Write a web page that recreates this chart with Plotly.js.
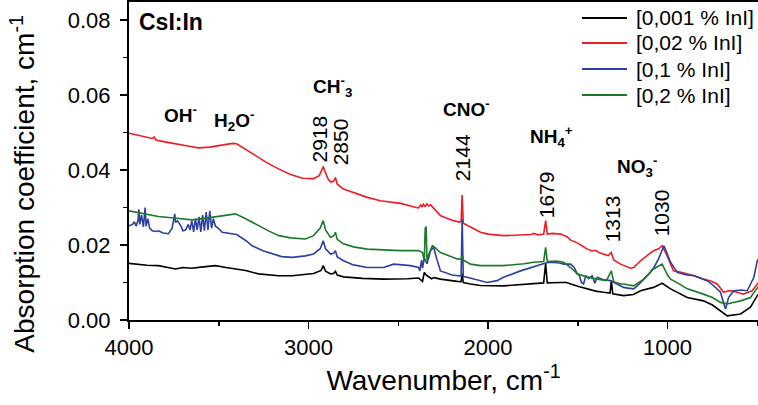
<!DOCTYPE html>
<html><head><meta charset="utf-8">
<script src="https://cdn.plot.ly/plotly-3.0.1.min.js"></script>
<style>html,body{margin:0;padding:0;background:#fff}#chart{width:758px;height:405px}</style>
</head><body><div id="chart"></div>
<script>
// Series names
const seriesNames = ["[0,001 % InI]", "[0,02 % InI]", "[0,1 % InI]", "[0,2 % InI]"];
const seriesColors = ["#000000", "#ee1c24", "#2e3f9f", "#1a7a2a"];

// [0,001 % InI]
const wnBlack = [4000,3950,3900,3836,3780,3741,3700,3650,3600,3518,3460,3407,3350,3279,3200,3167,3091,3017,2972,2930,2918,2905,2877,2860,2850,2840,2805,2700,2582,2450,2387,2365,2355,2345,2330,2315,2300,2265,2172,2150,2144,2138,2098,2042,1914,1800,1726,1690,1679,1670,1596,1563,1500,1447,1400,1357,1320,1313,1305,1245,1190,1150,1078,1030,983,890,800,750,705,667,593,538,500,490];
const abBlack = [0.0151,0.0148,0.0146,0.0145,0.0140,0.0136,0.0140,0.0138,0.0141,0.0145,0.0140,0.0136,0.0132,0.0123,0.0119,0.0118,0.0118,0.0121,0.0124,0.0132,0.0145,0.0130,0.0123,0.0124,0.0130,0.0120,0.0115,0.0111,0.0109,0.0110,0.0112,0.0103,0.0127,0.0120,0.0115,0.0110,0.0113,0.0109,0.0103,0.0102,0.0123,0.0100,0.0096,0.0092,0.0091,0.0095,0.0098,0.0099,0.0151,0.0099,0.0100,0.0100,0.0090,0.0083,0.0077,0.0074,0.0072,0.0105,0.0070,0.0065,0.0068,0.0078,0.0087,0.0098,0.0083,0.0060,0.0051,0.0040,0.0025,0.0011,0.0016,0.0034,0.0065,0.0070];

// [0,02 % InI]
const wnRed = [4000,3950,3900,3870,3860,3850,3800,3750,3700,3650,3613,3550,3500,3450,3423,3400,3350,3300,3279,3230,3167,3100,3033,2972,2940,2925,2918,2910,2890,2877,2860,2850,2840,2805,2750,2673,2600,2487,2400,2387,2375,2368,2360,2350,2340,2330,2320,2300,2264,2200,2160,2150,2144,2138,2100,2042,2000,1914,1850,1760,1746,1720,1690,1679,1670,1640,1596,1560,1540,1500,1470,1447,1420,1400,1380,1357,1330,1313,1300,1262,1206,1189,1150,1100,1078,1050,1030,1002,967,930,890,850,800,760,723,700,688,660,632,600,577,550,528,500,490];
const abRed = [0.0498,0.0492,0.0487,0.0484,0.0488,0.0480,0.0475,0.0470,0.0467,0.0462,0.0459,0.0461,0.0465,0.0469,0.0471,0.0470,0.0455,0.0441,0.0434,0.0419,0.0403,0.0388,0.0378,0.0377,0.0385,0.0400,0.0409,0.0398,0.0375,0.0368,0.0370,0.0380,0.0362,0.0349,0.0340,0.0327,0.0318,0.0311,0.0300,0.0299,0.0307,0.0301,0.0309,0.0303,0.0310,0.0304,0.0307,0.0296,0.0278,0.0266,0.0261,0.0262,0.0333,0.0258,0.0248,0.0234,0.0229,0.0225,0.0226,0.0228,0.0231,0.0227,0.0229,0.0265,0.0229,0.0231,0.0229,0.0222,0.0213,0.0205,0.0196,0.0189,0.0184,0.0186,0.0179,0.0176,0.0172,0.0180,0.0160,0.0149,0.0138,0.0140,0.0158,0.0177,0.0185,0.0190,0.0198,0.0171,0.0131,0.0128,0.0123,0.0118,0.0109,0.0104,0.0096,0.0083,0.0074,0.0078,0.0077,0.0072,0.0069,0.0074,0.0078,0.0096,0.0100];

// [0,1 % InI]
const wnBlue = [4000,3980,3970,3960,3950,3945,3940,3930,3920,3910,3905,3895,3885,3870,3850,3836,3810,3780,3760,3745,3741,3730,3710,3700,3685,3670,3660,3650,3640,3630,3620,3610,3600,3590,3580,3570,3560,3550,3540,3530,3518,3500,3481,3423,3400,3350,3314,3250,3202,3150,3091,3017,2972,2935,2918,2905,2877,2860,2850,2840,2805,2750,2673,2582,2526,2487,2432,2387,2380,2370,2365,2355,2340,2320,2303,2290,2265,2200,2172,2150,2144,2138,2116,2042,2004,1950,1914,1819,1726,1690,1679,1652,1600,1579,1540,1520,1503,1490,1480,1468,1455,1440,1420,1405,1392,1360,1317,1290,1245,1220,1188,1160,1132,1100,1076,1050,1020,1000,983,946,900,853,800,779,740,705,690,677,660,631,590,556,519,500,490];
const abBlue = [0.0251,0.0255,0.0262,0.0250,0.0266,0.0295,0.0255,0.0280,0.0248,0.0300,0.0250,0.0270,0.0245,0.0238,0.0236,0.0238,0.0232,0.0230,0.0245,0.0283,0.0260,0.0265,0.0250,0.0238,0.0240,0.0255,0.0240,0.0265,0.0235,0.0270,0.0240,0.0275,0.0235,0.0280,0.0238,0.0288,0.0240,0.0291,0.0245,0.0270,0.0250,0.0244,0.0234,0.0230,0.0228,0.0212,0.0198,0.0184,0.0176,0.0169,0.0167,0.0171,0.0176,0.0190,0.0211,0.0190,0.0176,0.0178,0.0185,0.0168,0.0158,0.0147,0.0140,0.0140,0.0149,0.0147,0.0145,0.0140,0.0131,0.0160,0.0138,0.0165,0.0150,0.0185,0.0194,0.0170,0.0131,0.0120,0.0118,0.0117,0.0269,0.0116,0.0114,0.0105,0.0100,0.0105,0.0114,0.0131,0.0145,0.0150,0.0152,0.0154,0.0152,0.0149,0.0149,0.0140,0.0123,0.0118,0.0100,0.0096,0.0118,0.0110,0.0118,0.0098,0.0114,0.0108,0.0105,0.0098,0.0087,0.0085,0.0083,0.0095,0.0109,0.0125,0.0140,0.0163,0.0198,0.0172,0.0154,0.0127,0.0121,0.0118,0.0110,0.0105,0.0090,0.0074,0.0050,0.0029,0.0060,0.0078,0.0080,0.0078,0.0114,0.0158,0.0165];

// [0,2 % InI]
const wnGreen = [4000,3900,3836,3750,3648,3550,3462,3407,3350,3277,3220,3165,3100,3017,2972,2935,2918,2905,2877,2860,2850,2840,2805,2750,2673,2487,2387,2365,2355,2350,2345,2340,2330,2310,2300,2265,2172,2150,2144,2138,2098,2042,1914,1800,1746,1690,1679,1670,1620,1579,1540,1503,1450,1392,1340,1313,1300,1262,1245,1189,1132,1078,1030,1000,983,930,890,800,750,705,667,640,593,538,500,490];
const abGreen = [0.0291,0.0282,0.0276,0.0272,0.0267,0.0273,0.0280,0.0283,0.0270,0.0251,0.0237,0.0225,0.0219,0.0216,0.0225,0.0245,0.0265,0.0240,0.0220,0.0224,0.0234,0.0215,0.0203,0.0195,0.0189,0.0185,0.0185,0.0180,0.0158,0.0245,0.0249,0.0160,0.0175,0.0198,0.0195,0.0180,0.0163,0.0162,0.0171,0.0160,0.0149,0.0145,0.0145,0.0150,0.0154,0.0156,0.0194,0.0156,0.0157,0.0154,0.0140,0.0123,0.0115,0.0109,0.0105,0.0131,0.0102,0.0096,0.0096,0.0091,0.0109,0.0136,0.0149,0.0120,0.0109,0.0095,0.0083,0.0069,0.0060,0.0047,0.0043,0.0046,0.0051,0.0060,0.0087,0.0092];

// Peak labels (rotated numbers) and group labels
const peakLabels = ["2918", "2850", "2144", "1679", "1313", "1030"];
const peakLabelWn = [2938, 2822, 2142, 1674, 1306, 1033];
const peakLabelY = [0.0483, 0.0475, 0.0433, 0.0334, 0.0270, 0.0286];
const groupLabels = ["OH<sup>-</sup>", "H<sub>2</sub>O<sup>-</sup>", "CH<sup>-</sup><sub>3</sub>", "CNO<sup>-</sup>", "NH<sub>4</sub><sup>+</sup>", "NO<sub>3</sub><sup>-</sup>"];
const groupWn = [3715, 3415, 2866, 2120, 1645, 1170];
const groupY = [0.0550, 0.0532, 0.0624, 0.0565, 0.0489, 0.0410];

const font = "Arial, 'Liberation Sans', sans-serif";
const xs = [wnBlack, wnRed, wnBlue, wnGreen];
const ys = [abBlack, abRed, abBlue, abGreen];
const traces = xs.map((x, i) => ({
  x: x, y: ys[i], type: 'scatter', mode: 'lines', name: seriesNames[i], showlegend: false,
  line: {color: seriesColors[i], width: 1.6}
}));

const annotations = [];
const shapes = [];
peakLabels.forEach((t, i) => annotations.push({
  x: peakLabelWn[i], y: peakLabelY[i], xref: 'x', yref: 'y', text: t, showarrow: false,
  textangle: -90, font: {family: font, size: 21, color: '#000'}
}));
groupLabels.forEach((t, i) => annotations.push({
  x: groupWn[i], y: groupY[i], xref: 'x', yref: 'y', text: '<b>' + t + '</b>', showarrow: false,
  font: {family: font, size: 19, color: '#000'}
}));
annotations.push({x: 0.012, y: 0.985, xref: 'paper', yref: 'paper', xanchor: 'left', yanchor: 'top',
  text: '<b>CsI:In</b>', showarrow: false, font: {family: font, size: 23, color: '#000'}});

// y-axis title (placed as annotation so it can sit slightly below the axis centre, as in the reference)
annotations.push({x: -0.169, y: 0.4277, xref: 'paper', yref: 'paper', xanchor: 'center', yanchor: 'middle',
  text: 'Absorption coefficient, cm<sup>-1</sup>', textangle: -90, showarrow: false,
  font: {family: font, size: 28, color: '#000'}});

// legend drawn in paper coordinates
const legendRowsY = [0.9497, 0.8711, 0.7893, 0.7075];
seriesNames.forEach((name, i) => {
  shapes.push({type: 'line', xref: 'paper', yref: 'paper', x0: 0.7202, x1: 0.7917,
    y0: legendRowsY[i], y1: legendRowsY[i], line: {color: seriesColors[i], width: 2}});
  annotations.push({x: 0.8029, y: legendRowsY[i], xref: 'paper', yref: 'paper', xanchor: 'left',
    yanchor: 'middle', text: name, showarrow: false, font: {family: font, size: 21, color: '#000'}});
});

const layout = {
  width: 758, height: 405,
  margin: {l: 129, r: 0, t: 2, b: 85},
  paper_bgcolor: '#fff', plot_bgcolor: '#fff',
  font: {family: font, color: '#000'},
  showlegend: false,
  xaxis: {
    range: [4000, 496], showgrid: false, zeroline: false,
    showline: true, linecolor: '#000', linewidth: 2, mirror: true,
    ticks: 'outside', ticklen: 7, tickwidth: 1.5, tickcolor: '#000',
    tick0: 0, dtick: 1000,
    minor: {dtick: 500, ticks: 'outside', ticklen: 4, tickwidth: 1.5, tickcolor: '#000'},
    tickfont: {family: font, size: 22, color: '#000'},
    title: {text: 'Wavenumber, cm<sup>-1</sup>', font: {family: font, size: 28, color: '#000'}, standoff: 6}
  },
  yaxis: {
    range: [0, 0.0848], showgrid: false, zeroline: false,
    showline: true, linecolor: '#000', linewidth: 2, mirror: true,
    ticks: 'outside', ticklen: 7, tickwidth: 1.5, tickcolor: '#000',
    tick0: 0, dtick: 0.02, tickformat: '.2f', ticklabelstandoff: 5,
    minor: {dtick: 0.01, ticks: 'outside', ticklen: 4, tickwidth: 1.5, tickcolor: '#000'},
    tickfont: {family: font, size: 22, color: '#000'}
  },
  shapes: shapes,
  annotations: annotations
};

Plotly.newPlot('chart', traces, layout, {displayModeBar: false, staticPlot: true});
</script>
</body></html>
